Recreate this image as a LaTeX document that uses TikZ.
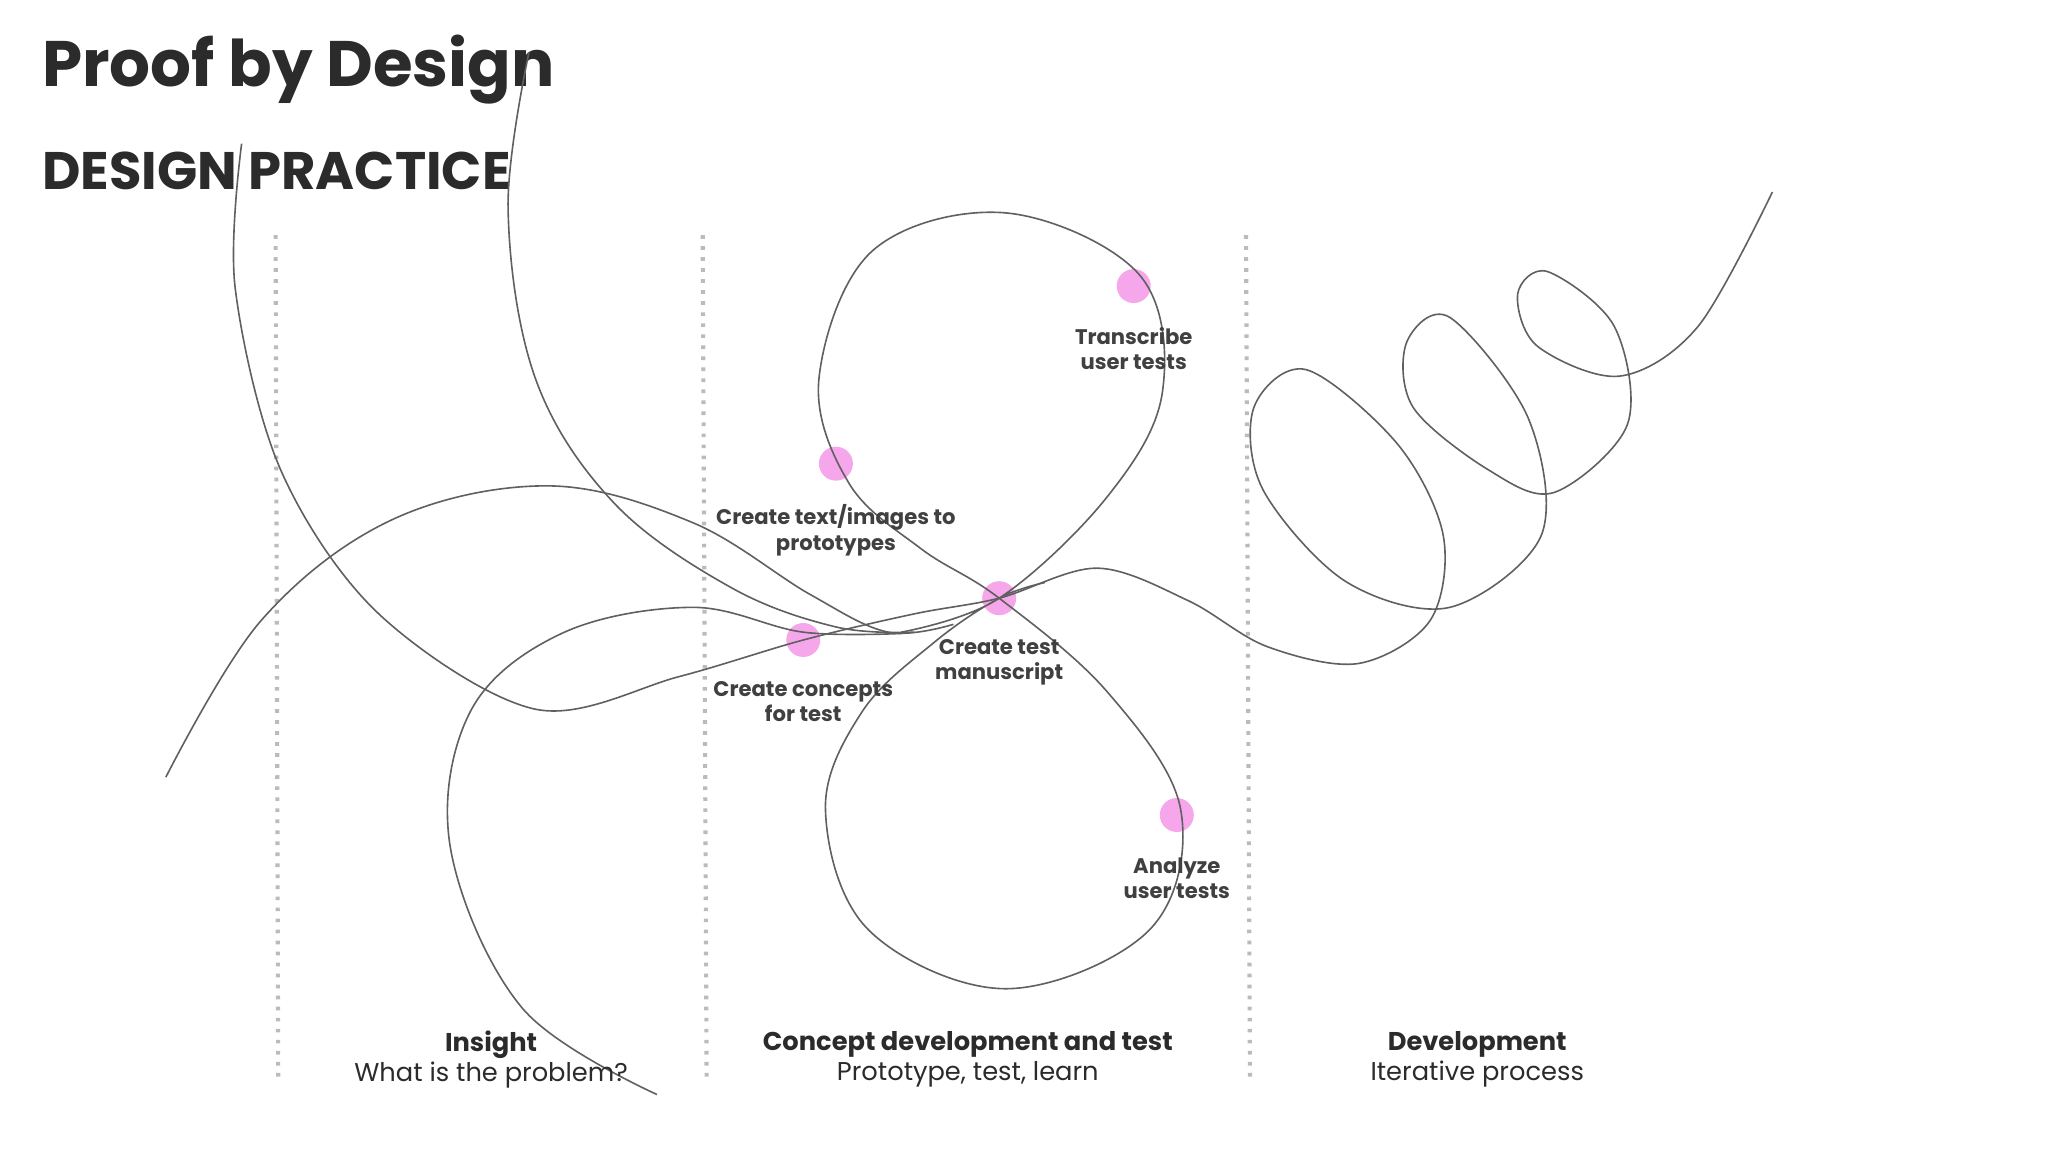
\documentclass[tikz,border=0pt]{standalone}
\usepackage{fontspec}
\setmainfont{Poppins}
\definecolor{ink}{HTML}{2B2B2B}
\definecolor{dot}{HTML}{F6A6EA}
\definecolor{vl}{HTML}{BBBBBB}
\begin{document}
\begin{tikzpicture}[x=0.01cm,y=-0.01cm,
  curve/.style={draw=ink!75,line width=0.35pt},
  pdot/.style={circle,fill=dot,minimum size=0.26cm,inner sep=0pt},
  lbl/.style={font=\fontsize{4.6}{5.6}\selectfont\bfseries,text=ink!90,align=center,anchor=north},
  sep/.style={draw=vl,line width=0.9pt,dash pattern=on 0.8pt off 1.6pt}]
\useasboundingbox (0,0) rectangle (1568,882);
\node[anchor=west,font=\fontsize{14}{16}\selectfont\bfseries,text=ink] (title) at (20,53) {Proof by Design};
\node[anchor=west,font=\fontsize{11.5}{13}\selectfont\bfseries,text=ink] (sub) at (20,131) {DESIGN PRACTICE};
\draw[sep] (211,180) -- (213,825);
\draw[sep] (538,180) -- (541,825);
\draw[sep] (954,180) -- (957,825);
% pink dots (behind curves)
\node[pdot] (d1) at (868,219) {};
\node[pdot] (d2) at (640,355) {};
\node[pdot] (d3) at (765,458) {};
\node[pdot] (d4) at (615,490) {};
\node[pdot] (d5) at (901,624) {};
% curves
\draw[curve] plot[smooth,tension=0.6] coordinates {(127,595) (200,475) (300,398) (420,372) (530,400) (620,455) (680,484) (730,478)};
\draw[curve] plot[smooth,tension=0.6] coordinates {(690,484) (765,458) (848,380) (890,300) (872,210) (770,163) (668,192) (627,290) (650,370) (705,420) (765,458) (848,530) (904,620) (880,712) (770,757) (665,712) (632,620) (660,545) (715,492) (765,458) (800,446)};
\draw[curve] plot[smooth,tension=0.6] coordinates {(405,40) (389,160) (410,290) (470,385) (560,450) (640,480) (700,484)};
\draw[curve] plot[smooth,tension=0.6] coordinates {(503,838) (400,772) (345,650) (360,545) (430,485) (530,465) (615,484) (690,485)};
\draw[curve] plot[smooth,tension=0.55] coordinates {(185,110) (180,220) (215,360) (290,470) (410,543) (520,518) (615,490) (700,470) (765,458) (840,435) (910,460) (970,495) (1040,508) (1095,475) (1105,410) (1070,340) (1000,283) (960,312) (967,375) (1030,445) (1110,465) (1180,410) (1170,320) (1110,243) (1077,262) (1082,312) (1140,360) (1190,377) (1246,325) (1236,250) (1185,208) (1162,225) (1177,265) (1240,288) (1300,250) (1357,147)};
% labels
\node[lbl] (l1) at (868,238) {Transcribe\\user tests};
\node[lbl] (l2) at (640,374) {Create text/images to\\prototypes};
\node[lbl] (l3) at (765,477) {Create test\\manuscript};
\node[lbl] (l4) at (615,509) {Create concepts\\for test};
\node[lbl] (l5) at (901,644) {Analyze\\user tests};
\node[align=center,font=\fontsize{5.6}{6.6}\selectfont,text=ink] (p1) at (376,811) {{\bfseries Insight}\\What is the problem?};
\node[align=center,font=\fontsize{5.6}{6.6}\selectfont,text=ink] (p2) at (741,811) {{\bfseries Concept development and test}\\Prototype, test, learn};
\node[align=center,font=\fontsize{5.6}{6.6}\selectfont,text=ink] (p3) at (1131,811) {{\bfseries Development}\\Iterative process};
\end{tikzpicture}
\end{document}
